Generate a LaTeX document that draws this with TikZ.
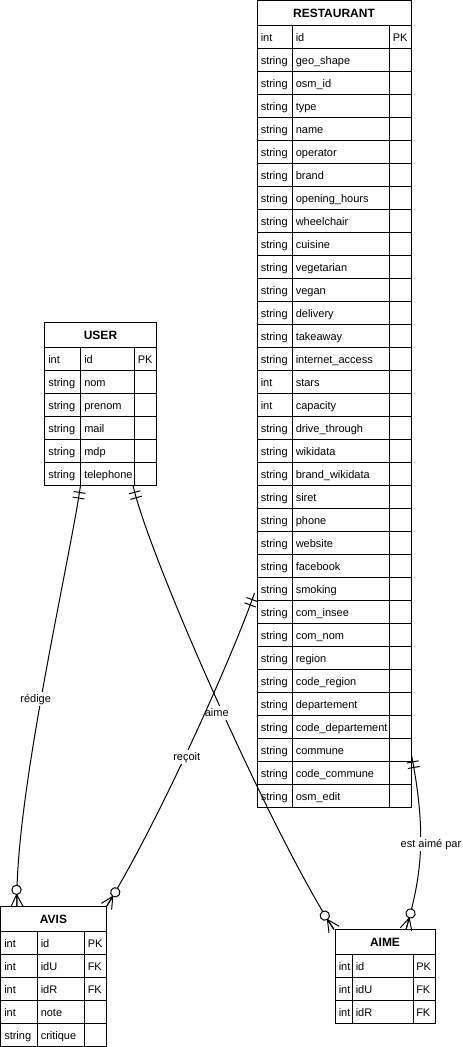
\documentclass[tikz,border=0pt]{standalone}
\usepackage{fontspec}
\setmainfont{Liberation Sans}
\usetikzlibrary{calc,decorations.markings}
\tikzset{
  tbl/.style={draw, line width=0.75pt, inner sep=0pt, outer sep=0pt},
  grid/.style={line width=0.75pt},
  hdr/.style={font=\bfseries\fontsize{9pt}{10pt}\selectfont, inner sep=0pt},
  cell/.style={font=\fontsize{8.25pt}{10pt}\selectfont, inner sep=0pt, anchor=west, text height=6pt, text depth=1.7pt},
  lbl/.style={font=\fontsize{8.25pt}{10pt}\selectfont, fill=white, inner sep=1.5pt, text height=6pt, text depth=1.7pt},
  conn/.style={line width=0.75pt},
  onestart/.style={postaction={decorate, decoration={markings,
      mark=at position 5.25pt with {\draw[conn] (0pt,-4.5pt) -- (0pt,4.5pt);},
      mark=at position 9.5pt with {\draw[conn] (0pt,-4.5pt) -- (0pt,4.5pt);}}}},
  zmanyend/.style={postaction={decorate, decoration={markings,
      mark=at position -0.01pt with {\draw[conn] (-9pt,0pt) -- (0pt,4.5pt) (-9pt,0pt) -- (0pt,0pt) (-9pt,0pt) -- (0pt,-4.5pt);
        \draw[conn, fill=white] (-12.5pt,0pt) circle[radius=3.5pt];}}}},
}
% #1 name, #2 x0, #3 y0, #4 c1, #5 c2, #6 x1, #7 nrows, #8 title, #9 rows
\newcommand\ertable[9]{%
  \pgfmathsetmacro\tbot{#3+25+#7*23}%
  \node[tbl, anchor=north west, minimum width={(#6-#2)*0.75pt}, minimum height={(\tbot-#3)*0.75pt}] (#1) at (#2,#3) {};
  \draw[grid] (#2,#3+25) -- (#6,#3+25);
  \draw[grid] (#4,#3+25) -- (#4,\tbot);
  \draw[grid] (#5,#3+25) -- (#5,\tbot);
  \node[hdr] (#1-title) at ({(#2+#6)/2},#3+13.3) {#8};
  \foreach \tt/\nn/\kk [count=\ri] in {#9} {
    \ifnum\ri<#7 \draw[grid] (#2,#3+25+\ri*23) -- (#6,#3+25+\ri*23);\fi
    \node[cell] (#1-t\ri) at (#2+3.5,#3+25+\ri*23-10.3) {\tt};
    \node[cell] (#1-n\ri) at (#4+3.5,#3+25+\ri*23-10.3) {\nn};
    \node[cell] (#1-k\ri) at (#5+3,#3+25+\ri*23-10.3) {\kk};
  }%
}
\begin{document}
\begin{tikzpicture}[x=0.75pt, y=-0.75pt]
\useasboundingbox (0,0) rectangle (463,1047);
\ertable{rest}{257}{0.5}{292}{389.5}{411}{34}{RESTAURANT}{int/id/PK, string/geo\_shape/{}, string/osm\_id/{}, string/type/{}, string/name/{}, string/operator/{}, string/brand/{}, string/opening\_hours/{}, string/wheelchair/{}, string/cuisine/{}, string/vegetarian/{}, string/vegan/{}, string/delivery/{}, string/takeaway/{}, string/internet\_access/{}, int/stars/{}, int/capacity/{}, string/drive\_through/{}, string/wikidata/{}, string/brand\_wikidata/{}, string/siret/{}, string/phone/{}, string/website/{}, string/facebook/{}, string/smoking/{}, string/com\_insee/{}, string/com\_nom/{}, string/region/{}, string/code\_region/{}, string/departement/{}, string/code\_departement/{}, string/commune/{}, string/code\_commune/{}, string/osm\_edit/{}}
\ertable{user}{44.5}{322.5}{80.5}{134.5}{156.5}{6}{USER}{int/id/PK, string/nom/{}, string/prenom/{}, string/mail/{}, string/mdp/{}, string/telephone/{}}
\ertable{avis}{0.5}{906.5}{37}{84.5}{106.5}{5}{AVIS}{int/id/PK, int/idU/FK, int/idR/FK, int/note/{}, string/critique/{}}
\ertable{aime}{335}{929.5}{352}{413}{435}{3}{AIME}{int/id/PK, int/idU/FK, int/idR/FK}

\coordinate (u1) at ($(user.south west)+(36,0)$);
\coordinate (u2) at ($(user.south west)+(88.5,0)$);
\coordinate (a1) at ($(avis.north west)+(16.5,0)$);
\coordinate (a2) at (avis.north east);
\coordinate (m1) at ($(aime.north west)+(-1,0)$);
\coordinate (m2) at ($(aime.north west)+(71,0)$);
\coordinate (r1) at ($(rest.west)+(-2.5,189)$);
\coordinate (r2) at ($(rest.east)+(0.5,351)$);

% redige
\draw[conn, onestart, zmanyend] (u1) .. controls (70,560) and (14,800) .. (a1);
\node[lbl] (lredige) at (35.7,699.3) {rédige};
% aime
\draw[conn, onestart, zmanyend] (u2) .. controls (150,560) and (275,840) .. (m1);
\node[lbl] (laime) at (216.7,713.3) {aime};
% recoit
\draw[conn, onestart, zmanyend] (r1) .. controls (235,650) and (160,820) .. (a2);
\node[lbl] (lrecoit) at (186.7,757.3) {reçoit};
% est aime par
\draw[conn, onestart, zmanyend] (r2) .. controls (428,840) and (420,880) .. (m2);
\node[lbl] (lestaime) at (431,844.3) {est aimé par};
\end{tikzpicture}
\end{document}
